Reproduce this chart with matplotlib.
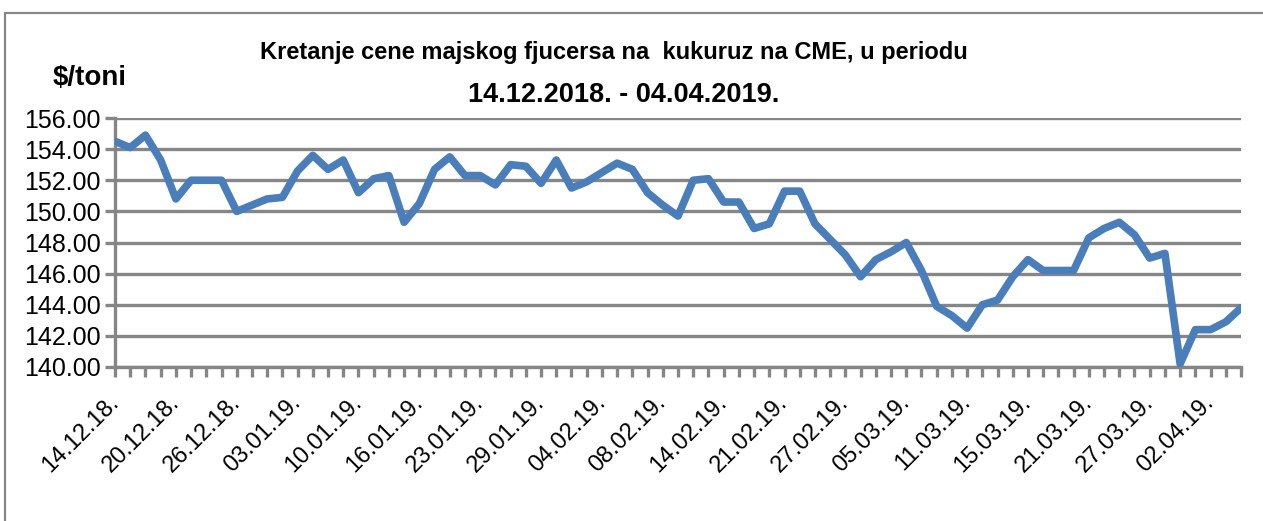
import matplotlib
matplotlib.use('Agg')
import matplotlib.pyplot as plt
from matplotlib.patches import Rectangle
import numpy as np

# cena majskog fjucersa na kukuruz, $/toni (75 trgovackih dana)
prices = [154.5, 154.1, 154.9, 153.3, 150.8, 152.0, 152.0, 152.0, 150.0, 150.4,
          150.8, 150.9, 152.6, 153.6, 152.7, 153.3, 151.2, 152.1, 152.3, 149.3,
          150.5, 152.7, 153.5, 152.3, 152.3, 151.7, 153.0, 152.9, 151.8, 153.3,
          151.5, 151.9, 152.5, 153.1, 152.7, 151.2, 150.4, 149.7, 152.0, 152.1,
          150.6, 150.6, 148.9, 149.2, 151.3, 151.3, 149.2, 148.2, 147.2, 145.8,
          146.9, 147.4, 148.0, 146.2, 143.9, 143.3, 142.5, 144.0, 144.3, 145.8,
          146.9, 146.2, 146.2, 146.2, 148.3, 148.9, 149.3, 148.5, 147.0, 147.3,
          140.2, 142.4, 142.4, 142.9, 143.8]

# labels shown on every 4th day
date_labels = ['14.12.18.', '20.12.18.', '26.12.18.', '03.01.19.', '10.01.19.',
               '16.01.19.', '23.01.19.', '29.01.19.', '04.02.19.', '08.02.19.',
               '14.02.19.', '21.02.19.', '27.02.19.', '05.03.19.', '11.03.19.',
               '15.03.19.', '21.03.19.', '27.03.19.', '02.04.19.']
label_step = 4

y_ticks = [140, 142, 144, 146, 148, 150, 152, 154, 156]

title1 = 'Kretanje cene majskog fjucersa na  kukuruz na CME, u periodu'
title2 = '14.12.2018. - 04.04.2019.'
unit = '$/toni'

grey = '#868686'
blue = '#4a7ebb'
fam = ['Liberation Sans', 'DejaVu Sans']

fig = plt.figure(figsize=[12.63, 5.21], dpi=100)

# chart area border (excel style)
fig.patches.append(Rectangle((5/1263, -0.05), 1.2, (521-13)/521 + 0.05,
                             transform=fig.transFigure, fill=False,
                             edgecolor=grey, linewidth=1.6))

ax = fig.add_axes([115/1263, (521-367)/521, 1126/1263, 249/521])

x = np.arange(len(prices))
ax.plot(x, prices, color=blue, linewidth=5.5, solid_joinstyle='round',
        solid_capstyle='round', zorder=3)

ax.set_xlim(0, len(prices)-1)
ax.set_ylim(y_ticks[0], y_ticks[-1])
ax.set_yticks(y_ticks)
ax.set_yticklabels(['%.2f' % v for v in y_ticks], fontsize=18, family=fam)

xt_labels = [''] * len(prices)
for k, lab in enumerate(date_labels):
    xt_labels[k*label_step] = lab
ax.set_xticks(x)
ax.set_xticklabels(xt_labels, rotation=45, ha='right', va='center',
                   rotation_mode='anchor', fontsize=17, family=fam)

ax.grid(axis='y', color=grey, linewidth=2.4, zorder=1)
ax.set_axisbelow(True)
for s in ['top', 'right']:
    ax.spines[s].set_visible(False)
for s in ['left', 'bottom']:
    ax.spines[s].set_color(grey)
    ax.spines[s].set_linewidth(2.4)
ax.tick_params(axis='y', direction='out', length=7, width=2.4, color=grey, pad=3)
ax.tick_params(axis='x', direction='out', length=7, width=2.4, color=grey, pad=16)

fig.text(614/1263, 1-52/521, title1, ha='center', va='center', fontsize=17,
         fontweight='bold', family=fam)
fig.text(624/1263, 1-95/521, title2, ha='center', va='center', fontsize=19.5,
         fontweight='bold', family=fam)
fig.text(53/1263, 1-78/521, unit, ha='left', va='center', fontsize=20,
         fontweight='bold', family=fam)

fig.savefig('out.png', dpi=100)
